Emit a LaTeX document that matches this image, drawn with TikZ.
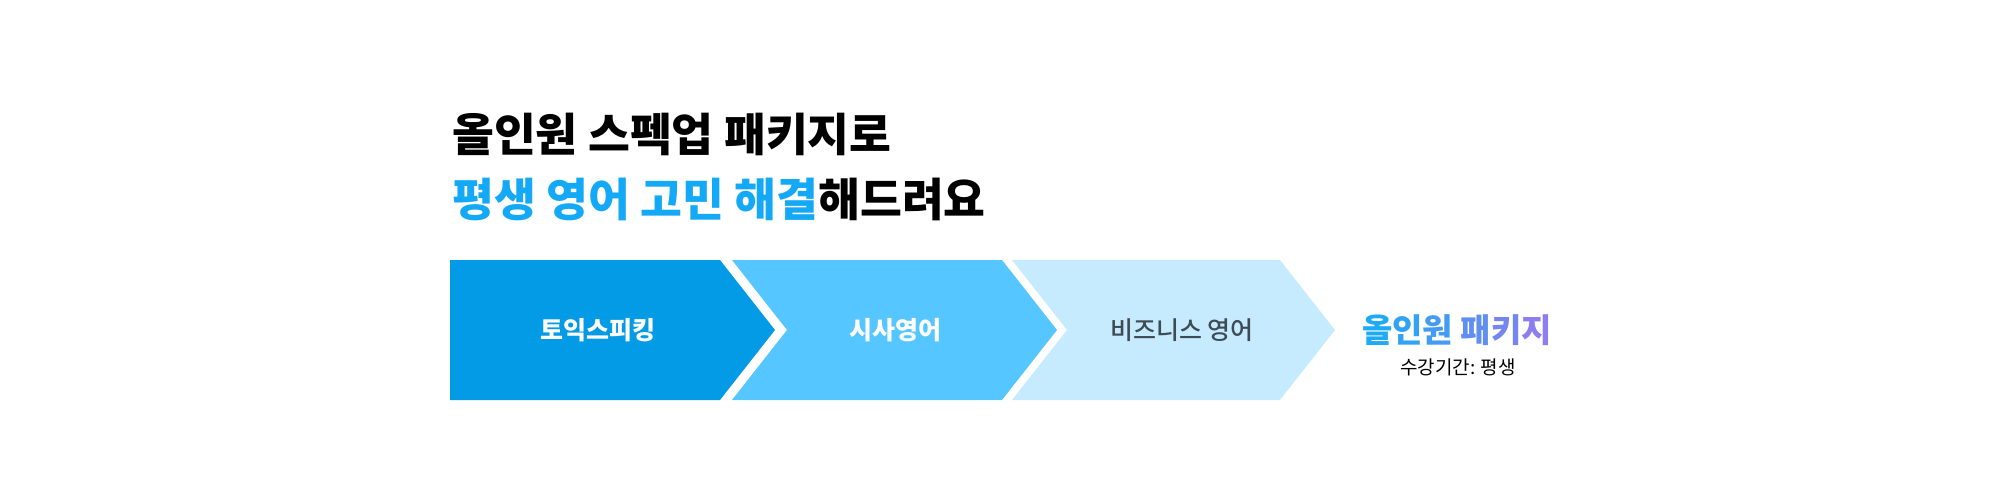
\documentclass[tikz,border=0pt]{standalone}
\usepackage{fontspec}
\setmainfont{Noto Sans CJK KR}
\newfontfamily\krmedium{Noto Sans CJK KR Medium}
\usepackage{tikz}
\definecolor{stepA}{HTML}{039BE5}
\definecolor{stepB}{HTML}{55C6FF}
\definecolor{stepC}{HTML}{C6EBFF}
\definecolor{titleblue}{HTML}{14A9F6}
\definecolor{slate}{HTML}{3D4B55}
\definecolor{gradL}{HTML}{1FAAF5}
\definecolor{gradR}{HTML}{8C7DF0}
\tikzset{
title/.style={ % Sets the properties for the heading lines
anchor=base west,
inner sep=0pt,
font=\fontsize{45.5}{45.5}\selectfont\bfseries},
chevron/.style={ % Sets the properties for each step shape
draw=none},
steplabel/.style={ % Text inside the steps
inner sep=0pt,
font=\fontsize{25}{25}\selectfont\bfseries,
text=white}}

\begin{document}
\begin{tikzpicture}[x=1pt,y=-1pt]
\useasboundingbox (0,0) rectangle (2000,500);
\node[title] (line1) at (452,152) {올인원 스펙업 패키지로};
\node[title] (line2) at (452,216) {\textcolor{titleblue}{평생 영어 고민 해결}해드려요};
\fill[chevron, stepA] (450,260) -- (720,260) -- (775,330) -- (720,400) -- (450,400) -- cycle;
\fill[chevron, stepB] (732,260) -- (1002,260) -- (1057,330) -- (1002,400) -- (732,400) -- (787,330) -- cycle;
\fill[chevron, stepC] (1012,260) -- (1280,260) -- (1335,330) -- (1280,400) -- (1012,400) -- (1067,330) -- cycle;
\node[steplabel] (toeic) at (598,330) {토익스피킹};
\node[steplabel] (news) at (895,330) {시사영어};
\node[steplabel, text=slate, font=\fontsize{25}{25}\selectfont\krmedium] (biz) at (1182,330) {비즈니스 영어};
\node[inner sep=0pt, font=\fontsize{33}{33}\selectfont\bfseries] (pkg) at (1457,330)
{\textcolor{gradL}{올}\textcolor{gradL!83!gradR}{인}\textcolor{gradL!67!gradR}{원} \textcolor{gradL!40!gradR}{패}\textcolor{gradL!20!gradR}{키}\textcolor{gradR}{지}};
\node[inner sep=0pt, font=\fontsize{19}{19}\selectfont] (term) at (1458,367) {수강기간: 평생};
\end{tikzpicture}
\end{document}
